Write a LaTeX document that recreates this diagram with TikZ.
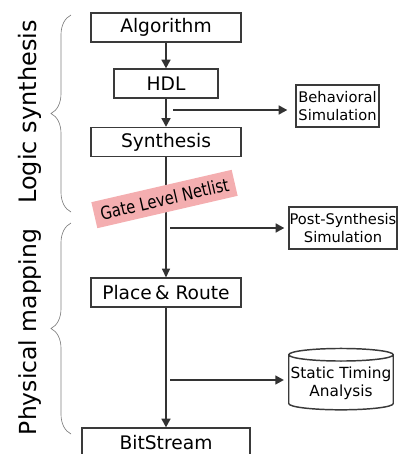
\documentclass[tikz,border=0pt]{standalone}
\usepackage{fontspec}
\setmainfont{DejaVu Sans}
\newfontfamily\narrowfont{DejaVu Sans}[FakeStretch=0.82]
\usetikzlibrary{arrows.meta,shapes.geometric,decorations.pathreplacing}
\definecolor{linegray}{HTML}{333333}
\definecolor{boxgray}{HTML}{3A3A3A}
\definecolor{netpink}{HTML}{F4AEB0}
\tikzset{
    flow/.style={draw=linegray, line width=2.1pt, -{Triangle[length=6.5pt,width=6.5pt]}},
    thinflow/.style={draw=linegray, line width=1pt, -{Triangle[length=6.5pt,width=6pt]}},
    phase/.style={draw=gray, line width=0.5pt, decorate, decoration={brace, amplitude=15pt}}
}
\begin{document}
\begin{tikzpicture}[x=0.75pt,y=-0.75pt]
    \useasboundingbox (0,0) rectangle (399,454);
    \clip (0,0) rectangle (399,454);
    % design flow
    \begin{scope}[every node/.style={draw=boxgray, line width=0.9pt, inner sep=0pt, minimum height=21.75pt, font=\fontsize{14}{16}\selectfont}]
        \node[minimum width=112.5pt] (alg) at (166,27.5) {Algorithm};
        \node[minimum width=78pt] (hdl) at (166,83.5) {HDL};
        \node[minimum width=112.5pt] (syn) at (166,142) {Synthesis};
        \node[minimum width=112.5pt] (pr) at (166,292.5) {Place\,\& Route};
        \node[minimum width=126pt] (bit) at (166,442.5) {BitStream};
    \end{scope}
    \begin{scope}[every node/.style={draw=boxgray, line width=0.9pt, align=center, inner sep=0pt, font=\fontsize{11}{13}\selectfont}]
        \node[minimum width=62.25pt, minimum height=31.5pt] (beh) at (337.5,106) {Behavioral\\Simulation};
        \node[minimum width=81pt, minimum height=31.5pt] (post) at (343,228) {Post-Synthesis\\Simulation};
        \node[cylinder, shape border rotate=90, aspect=0.12, line width=1.1pt, inner xsep=1.5pt, inner ysep=4pt, font=\fontsize{11.5}{13.5}\selectfont] (sta) at (341,383.5) {Static Timing\\Analysis};
    \end{scope}
    \draw[flow] (alg) -- (hdl);
    \draw[flow] (hdl) -- (syn);
    \draw[flow] (pr) -- (bit);
    \draw[thinflow] (syn) -- (pr);
    \coordinate (tb) at (173,110);
    \coordinate (tp) at (170,228);
    \coordinate (ts) at (170,380);
    \draw[flow, shorten >=6pt] (tb) -- (tb -| beh.west);
    \draw[flow, shorten >=3pt] (tp) -- (tp -| post.west);
    \draw[flow, shorten >=3pt] (ts) -- (ts -| sta.west);
    \node[rotate=13, fill=netpink, minimum width=108pt, minimum height=20pt, inner sep=0pt, font=\narrowfont\fontsize{13.5}{15}\selectfont] (gln) at (164.5,199) {Gate Level Netlist};
    % phases
    \path[phase] (71,212) -- (71,15);
    \path[phase] (71,434) -- (71,223);
    \node[rotate=90, font=\fontsize{18}{20}\selectfont] (ls) at (30,112) {Logic synthesis};
    \node[rotate=90, font=\fontsize{17.6}{20}\selectfont] (pm) at (30,332) {Physical mapping};
\end{tikzpicture}
\end{document}
